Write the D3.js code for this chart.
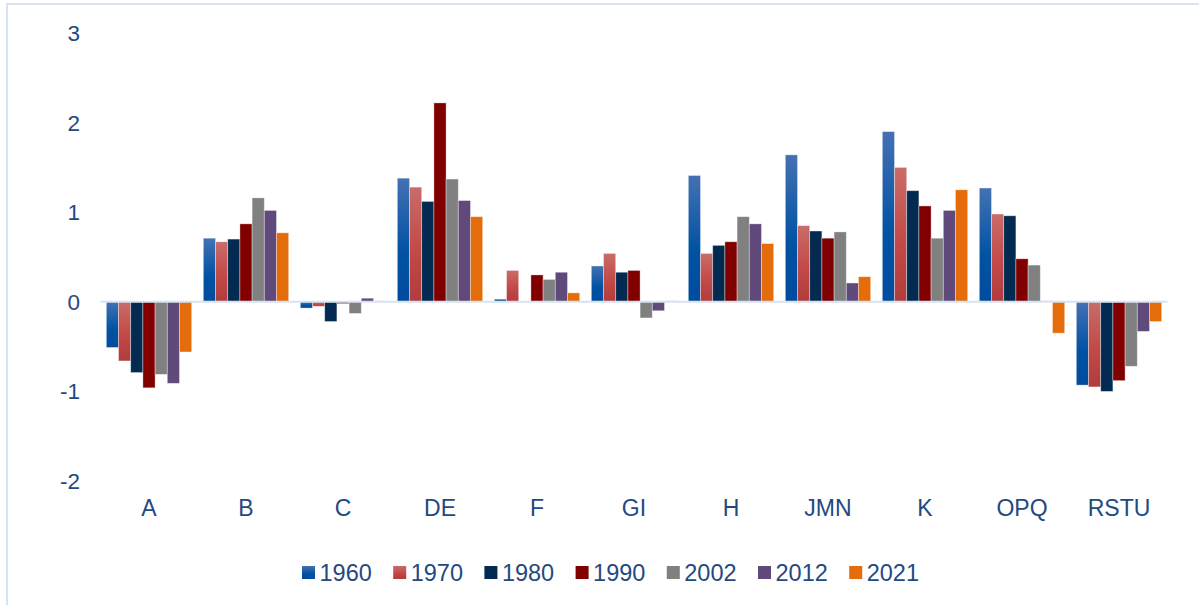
<!DOCTYPE html>
<html><head><meta charset="utf-8">
<script src="https://cdn.jsdelivr.net/npm/d3@7"></script>
<style>body{margin:0;background:#fff}svg{display:block}text{font-family:"Liberation Sans",Arial,sans-serif}</style>
</head><body><svg id="c" width="1199" height="605"></svg>
<script>
const categories = ["A","B","C","DE","F","GI","H","JMN","K","OPQ","RSTU"];
const seriesNames = ["1960","1970","1980","1990","2002","2012","2021"];
const s1960 = [-0.51,0.71,-0.07,1.38,0.03,0.40,1.41,1.64,1.90,1.27,-0.93];
const s1970 = [-0.66,0.67,-0.05,1.28,0.35,0.54,0.54,0.85,1.50,0.98,-0.95];
const s1980 = [-0.79,0.70,-0.22,1.12,0.00,0.33,0.63,0.79,1.24,0.96,-1.00];
const s1990 = [-0.96,0.87,-0.02,2.22,0.30,0.35,0.67,0.71,1.07,0.48,-0.88];
const s2002 = [-0.81,1.16,-0.13,1.37,0.25,-0.18,0.95,0.78,0.71,0.41,-0.72];
const s2012 = [-0.91,1.02,0.04,1.13,0.33,-0.10,0.87,0.21,1.02,0.01,-0.33];
const s2021 = [-0.56,0.77,0.01,0.95,0.10,0.01,0.65,0.28,1.25,-0.35,-0.22];
const yTicks = [-2,-1,0,1,2,3];
const seriesValues = [s1960,s1970,s1980,s1990,s2002,s2012,s2021];
const colors = ["#0052a3","#c0504d","#032a50","#800000","#808080","#604a7b","#e46c0a"];

const svg = d3.select("#c");
const defs = svg.append("defs");
const g1 = defs.append("linearGradient").attr("id","g1960").attr("x1",0).attr("y1",0).attr("x2",0).attr("y2",1);
g1.append("stop").attr("offset","0%").attr("stop-color","#4471b3");
g1.append("stop").attr("offset","60%").attr("stop-color","#0052a3");
g1.append("stop").attr("offset","100%").attr("stop-color","#004c9e");
const g2 = defs.append("linearGradient").attr("id","g1970").attr("x1",0).attr("y1",0).attr("x2",0).attr("y2",1);
g2.append("stop").attr("offset","0%").attr("stop-color","#c96c6a");
g2.append("stop").attr("offset","55%").attr("stop-color","#c24a48");
g2.append("stop").attr("offset","100%").attr("stop-color","#b03c3c");
const fills = ["url(#g1960)","url(#g1970)",colors[2],colors[3],colors[4],colors[5],colors[6]];

// border
svg.append("path").attr("d","M7,606 L7,4 L1200,4").attr("fill","none").attr("stroke","#d7e3f1").attr("stroke-width",2);

const x0 = d3.scaleBand().domain(categories).range([100.5,1167.5]).paddingInner(0.12).paddingOuter(0.06);
const x1 = d3.scaleBand().domain(seriesNames).range([0,x0.bandwidth()]);
const y = d3.scaleLinear().domain([-2,3]).range([481,33]);

const txt = "#24497f";
svg.append("g").selectAll("text").data(yTicks).join("text")
  .attr("x",80).attr("y",d=>y(d)+8).attr("text-anchor","end")
  .attr("font-size",22.5).attr("fill",txt).text(d=>d);

const groups = svg.append("g").selectAll("g").data(categories).join("g")
  .attr("transform",d=>`translate(${x0(d)},0)`);
groups.selectAll("rect").data((c,i)=>seriesNames.map((s,j)=>({s,j,v:seriesValues[j][i]}))).join("rect")
  .attr("x",d=>x1(d.s)).attr("width",x1.bandwidth())
  .attr("y",d=>Math.min(y(d.v),y(0))).attr("height",d=>Math.abs(y(d.v)-y(0)))
  .attr("fill",d=>fills[d.j]).attr("stroke","rgba(255,255,255,0.45)").attr("stroke-width",0.8);

// zero line
svg.append("line").attr("x1",100.5).attr("x2",1167.5).attr("y1",y(0)).attr("y2",y(0))
  .attr("stroke","#d7e3f1").attr("stroke-width",2);

svg.append("g").selectAll("text").data(categories).join("text")
  .attr("x",d=>x0(d)+x0.bandwidth()/2).attr("y",516).attr("text-anchor","middle")
  .attr("font-size",23).attr("fill",txt).text(d=>d);

const leg = svg.append("g").selectAll("g").data(seriesNames).join("g")
  .attr("transform",(d,i)=>`translate(${302+i*91.2},0)`);
leg.append("rect").attr("x",0).attr("y",566).attr("width",13).attr("height",13).attr("fill",(d,i)=>fills[i]);
leg.append("text").attr("x",17.5).attr("y",580.5).attr("font-size",23.5).attr("fill",txt).text(d=>d);
</script></body></html>
